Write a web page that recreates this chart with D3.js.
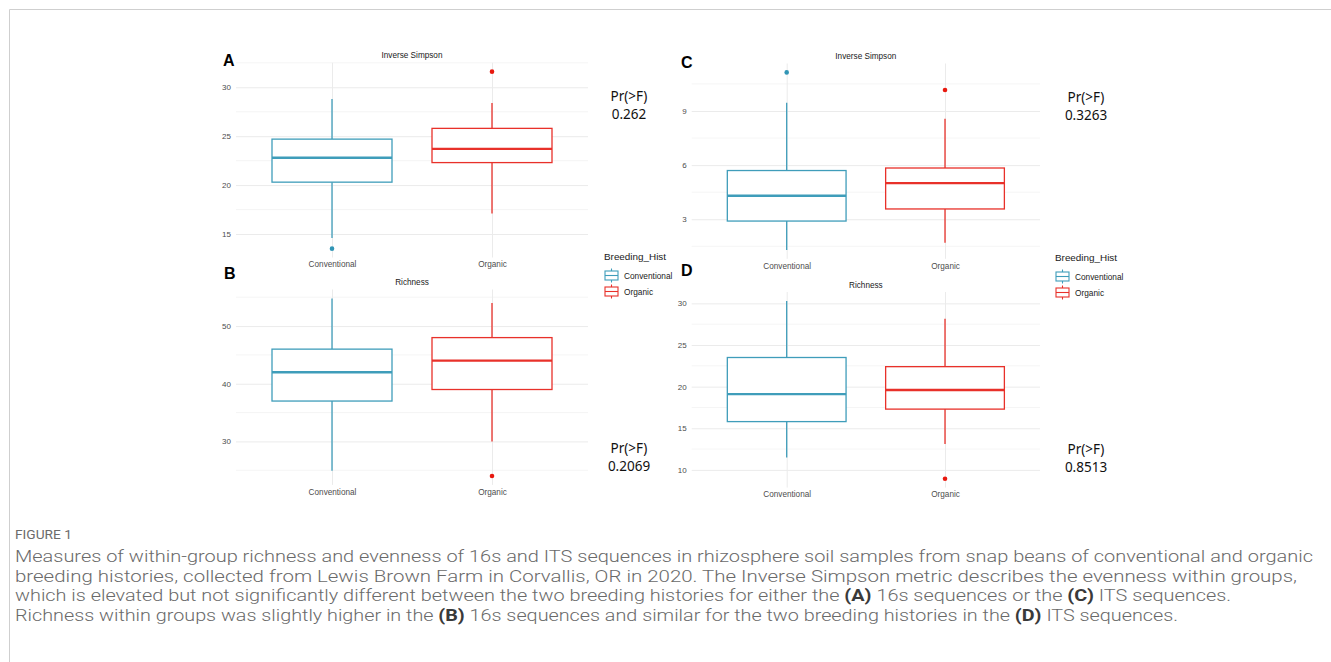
<!DOCTYPE html>
<html>
<head>
<meta charset="utf-8">
<script src="https://cdn.jsdelivr.net/npm/d3@7"></script>
<style>
  body { margin: 0; background: #fff; }
  svg { display: block; }
</style>
</head>
<body>
<svg id="chart"></svg>
<script>
// groups on the x axis
const categories = ["Conventional", "Organic"];

// box summaries per group: [lower whisker, Q1, median, Q3, upper whisker]
const invSimpson16s = [[14.6, 20.3, 22.8, 24.7, 28.8], [17.1, 22.3, 23.7, 25.8, 28.4]];
const invSimpson16sOutliers = [[13.5], [31.6]];
const richness16s = [[24.9, 37, 42, 46, 54.8], [30, 39, 44, 48, 54]];
const richness16sOutliers = [[], [24]];
const invSimpsonITS = [[1.3, 2.9, 4.3, 5.7, 9.45], [1.7, 3.57, 5.0, 5.84, 8.57]];
const invSimpsonITSOutliers = [[11.14], [10.16]];
const richnessITS = [[11.5, 15.8, 19.1, 23.5, 30.3], [13.1, 17.3, 19.6, 22.4, 28.15]];
const richnessITSOutliers = [[], [8.94]];

// y tick labels
const ticksA = [15, 20, 25, 30];
const ticksB = [30, 40, 50];
const ticksC = [3, 6, 9];
const ticksD = [10, 15, 20, 25, 30];

// ANOVA p values
const pValues = ["0.262", "0.2069", "0.3263", "0.8513"];

const colors = { Conventional: "#3f9dba", Organic: "#e8312a" };
const pointColors = { Conventional: "#3195b5", Organic: "#e8190f" };

const width = 1331, height = 662;
const svg = d3.select("#chart").attr("width", width).attr("height", height);

// page frame
svg.append("path")
  .attr("d", `M9.5,${height} V9.5 H${width}`)
  .attr("fill", "none").attr("stroke", "#cfcfcf").attr("stroke-width", 1);

const panels = [
  { letter: "A", title: "Inverse Simpson", boxes: invSimpson16s, outliers: invSimpson16sOutliers, ticks: ticksA,
    x0: 236, x1: 588, top: 62.8, bottom: 257.5, letterX: 223, letterY: 66, p: pValues[0], pX: 629, pY: 96 },
  { letter: "B", title: "Richness", boxes: richness16s, outliers: richness16sOutliers, ticks: ticksB,
    x0: 236, x1: 588, top: 289.5, bottom: 484.9, letterX: 224, letterY: 278.5, p: pValues[1], pX: 629, pY: 448 },
  { letter: "C", title: "Inverse Simpson", boxes: invSimpsonITS, outliers: invSimpsonITSOutliers, ticks: ticksC,
    x0: 691.7, x1: 1040, top: 63.5, bottom: 258.8, letterX: 681, letterY: 68, p: pValues[2], pX: 1086, pY: 96.5 },
  { letter: "D", title: "Richness", boxes: richnessITS, outliers: richnessITSOutliers, ticks: ticksD,
    x0: 691.7, x1: 1040, top: 292, bottom: 487.6, letterX: 681, letterY: 276, p: pValues[3], pX: 1086, pY: 449 }
];

panels.forEach(pn => {
  const g = svg.append("g");
  const all = pn.boxes.flat().concat(pn.outliers.flat());
  const [lo, hi] = d3.extent(all);
  const pad = (hi - lo) * 0.05;
  const y = d3.scaleLinear().domain([lo - pad, hi + pad]).range([pn.bottom, pn.top]);
  const x = d3.scalePoint().domain(categories).range([pn.x0, pn.x1]).padding(0.6);
  const bw = x.step() * 0.75;

  // minor grid, halfway between major ticks
  const tstep = pn.ticks[1] - pn.ticks[0];
  const minorTicks = [];
  for (let v = pn.ticks[0] - tstep / 2; v <= y.domain()[1]; v += tstep) {
    if (v >= y.domain()[0]) minorTicks.push(v);
  }
  g.selectAll(".minor").data(minorTicks).join("line")
    .attr("x1", pn.x0).attr("x2", pn.x1)
    .attr("y1", d => y(d)).attr("y2", d => y(d))
    .attr("stroke", "#f2f2f2").attr("stroke-width", 0.8);

  // major y grid via axis
  const yAxis = d3.axisLeft(y).tickValues(pn.ticks).tickSize(-(pn.x1 - pn.x0)).tickPadding(5);
  const ya = g.append("g").attr("transform", `translate(${pn.x0},0)`).call(yAxis);
  ya.select(".domain").remove();
  ya.selectAll("line").attr("stroke", "#ebebeb").attr("stroke-width", 1);
  ya.selectAll("text").attr("fill", "#4d4d4d").style("font", "8px 'Liberation Sans', Arial, sans-serif");

  // vertical grid + labels via bottom axis
  const xAxis = d3.axisBottom(x).tickSize(-(pn.bottom - pn.top)).tickPadding(4);
  const xa = g.append("g").attr("transform", `translate(0,${pn.bottom})`).call(xAxis);
  xa.select(".domain").remove();
  xa.selectAll("line").attr("stroke", "#ebebeb").attr("stroke-width", 1);
  xa.selectAll("text").attr("fill", "#4d4d4d").style("font", "8.2px 'Liberation Sans', Arial, sans-serif");

  // title
  g.append("text")
    .attr("x", (pn.x0 + pn.x1) / 2).attr("y", pn.top - 4.5)
    .attr("text-anchor", "middle").attr("fill", "#1a1a1a")
    .style("font", "8.2px 'Liberation Sans', Arial, sans-serif")
    .text(pn.title);

  // boxes
  categories.forEach((c, i) => {
    const [wl, q1, med, q3, wh] = pn.boxes[i];
    const cx = x(c);
    const bg = g.append("g").attr("stroke", colors[c]).attr("fill", "none");
    bg.append("line").attr("x1", cx).attr("x2", cx).attr("y1", y(wh)).attr("y2", y(q3)).attr("stroke-width", 1.3);
    bg.append("line").attr("x1", cx).attr("x2", cx).attr("y1", y(q1)).attr("y2", y(wl)).attr("stroke-width", 1.3);
    bg.append("rect").attr("x", cx - bw / 2).attr("width", bw)
      .attr("y", y(q3)).attr("height", y(q1) - y(q3))
      .attr("fill", "#fff").attr("stroke-width", 1.3);
    bg.append("line").attr("x1", cx - bw / 2).attr("x2", cx + bw / 2)
      .attr("y1", y(med)).attr("y2", y(med)).attr("stroke-width", 2.4);
    g.selectAll(null).data(pn.outliers[i]).join("circle")
      .attr("cx", cx).attr("cy", d => y(d)).attr("r", 2.3)
      .attr("fill", pointColors[c]);
  });

  // panel letter
  svg.append("text")
    .attr("x", pn.letterX).attr("y", pn.letterY)
    .attr("fill", "#000").style("font", "bold 16px 'Liberation Sans', Arial, sans-serif")
    .text(pn.letter);

  // p value
  const pt = svg.append("g").attr("fill", "#111")
    .style("font", "13.5px 'Noto Sans', 'Open Sans', sans-serif")
    .attr("text-anchor", "middle");
  pt.append("text").attr("x", pn.pX).attr("y", pn.pY + 5).text("Pr(>F)");
  pt.append("text").attr("x", pn.pX).attr("y", pn.pY + 23).text(pn.p);
});

// legends
function legend(x, y) {
  const lg = svg.append("g").attr("transform", `translate(${x},${y})`);
  lg.append("text").attr("x", 0).attr("y", 0).attr("fill", "#1a1a1a")
    .style("font", "9.9px 'Liberation Sans', Arial, sans-serif").text("Breeding_Hist");
  categories.forEach((c, i) => {
    const k = lg.append("g").attr("transform", `translate(1,${16 + i * 16})`)
      .attr("stroke", colors[c]).attr("fill", "none").attr("stroke-width", 1.1);
    k.append("line").attr("x1", 6.5).attr("x2", 6.5).attr("y1", -7).attr("y2", 7);
    k.append("rect").attr("x", 0).attr("y", -4.5).attr("width", 13).attr("height", 9).attr("fill", "#fff");
    k.append("line").attr("x1", 0).attr("x2", 13).attr("y1", 0).attr("y2", 0);
    lg.append("text").attr("x", 20).attr("y", 16 + i * 16 + 3).attr("fill", "#1a1a1a")
      .style("font", "8.3px 'Liberation Sans', Arial, sans-serif").text(c);
  });
}
legend(604, 259.5);
legend(1055, 260.5);

// caption
const captionLines = [
  [["Measures of within-group richness and evenness of 16s and ITS sequences in rhizosphere soil samples from snap beans of conventional and organic", false]],
  [["breeding histories, collected from Lewis Brown Farm in Corvallis, OR in 2020. The Inverse Simpson metric describes the evenness within groups,", false]],
  [["which is elevated but not significantly different between the two breeding histories for either the ", false], ["(A)", true],
   [" 16s sequences or the ", false], ["(C)", true], [" ITS sequences.", false]],
  [["Richness within groups was slightly higher in the ", false], ["(B)", true],
   [" 16s sequences and similar for the two breeding histories in the ", false], ["(D)", true], [" ITS sequences.", false]]
];
const captionWidths = [1298, 1282, 1216, 1163];
const capFont = "Roboto, 'Liberation Sans Narrow', sans-serif";

svg.append("text").attr("x", 15).attr("y", 539)
  .attr("fill", "#6b6b6b").style("font-family", capFont).style("font-size", "12.5px")
  .attr("textLength", 57).attr("lengthAdjust", "spacingAndGlyphs")
  .text("FIGURE 1");

captionLines.forEach((parts, i) => {
  const t = svg.append("text").attr("x", 15).attr("y", 562 + i * 19.7)
    .attr("fill", "#6a6a6a").style("font-family", capFont).style("font-size", "16.5px")
    .style("font-weight", 300)
    .attr("textLength", captionWidths[i]).attr("lengthAdjust", "spacingAndGlyphs");
  parts.forEach(([s, b]) => {
    t.append("tspan").attr("font-weight", b ? "bold" : null).attr("fill", b ? "#3a3a3a" : null).text(s);
  });
});
</script>
</body>
</html>
